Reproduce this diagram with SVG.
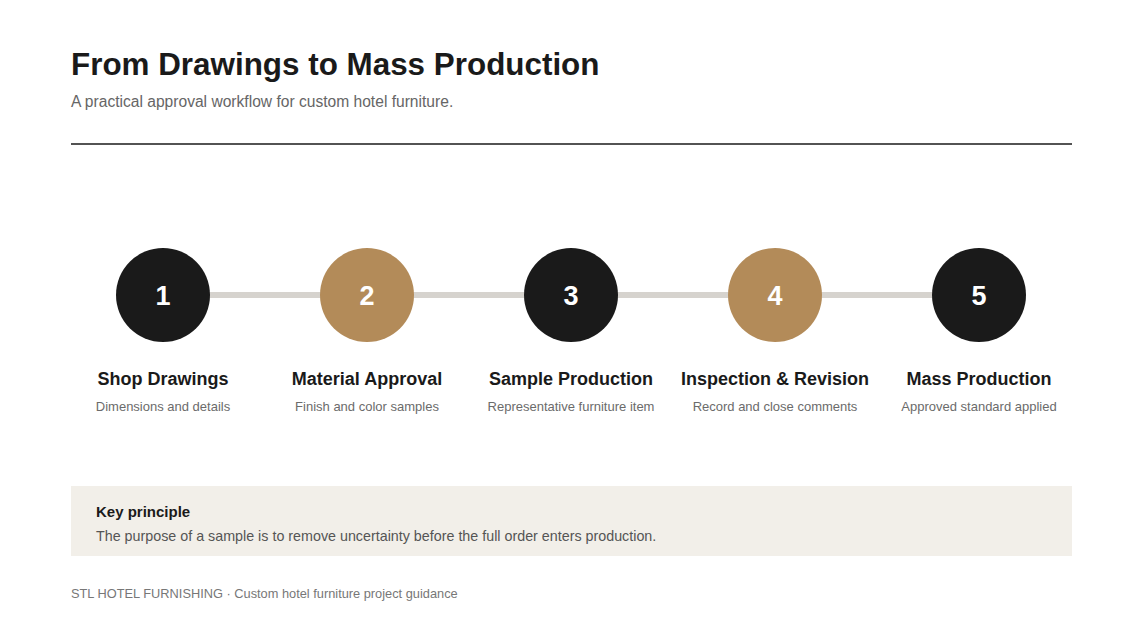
<svg xmlns="http://www.w3.org/2000/svg" width="1140" height="636" viewBox="0 0 1140 636">
<style>
text{font-family:"Liberation Sans",Arial,sans-serif}
.title{font-size:31.4px;font-weight:bold;fill:#1a1a1a}
.sub{font-size:15.6px;fill:#666}
.num{font-size:27px;font-weight:bold;fill:#fff;text-anchor:middle}
.lbl{font-size:18px;font-weight:bold;fill:#1a1a1a;text-anchor:middle}
.desc{font-size:13px;fill:#6b6b6b;text-anchor:middle}
.dark{fill:#1a1a1a}
.gold{fill:#b38b59}
.kh{font-size:15px;font-weight:bold;fill:#1a1a1a}
.kb{font-size:14.3px;fill:#555}
.foot{font-size:12.8px;fill:#777}
</style>
<rect width="1140" height="636" fill="#fff"/>
<text class="title" x="71" y="75">From Drawings to Mass Production</text>
<text class="sub" x="71" y="107">A practical approval workflow for custom hotel furniture.</text>
<line x1="71" y1="144" x2="1072" y2="144" stroke="#1a1a1a" stroke-width="1.5"/>
<g id="connectors">
<line x1="163" y1="295" x2="979" y2="295" stroke="#d6d3ce" stroke-width="6"/>
</g>
<g id="step1"><circle class="dark" cx="163" cy="295" r="47"/><text class="num" x="163" y="305">1</text><text class="lbl" x="163" y="385">Shop Drawings</text><text class="desc" x="163" y="411">Dimensions and details</text></g>
<g id="step2"><circle class="gold" cx="367" cy="295" r="47"/><text class="num" x="367" y="305">2</text><text class="lbl" x="367" y="385">Material Approval</text><text class="desc" x="367" y="411">Finish and color samples</text></g>
<g id="step3"><circle class="dark" cx="571" cy="295" r="47"/><text class="num" x="571" y="305">3</text><text class="lbl" x="571" y="385">Sample Production</text><text class="desc" x="571" y="411">Representative furniture item</text></g>
<g id="step4"><circle class="gold" cx="775" cy="295" r="47"/><text class="num" x="775" y="305">4</text><text class="lbl" x="775" y="385">Inspection &amp; Revision</text><text class="desc" x="775" y="411">Record and close comments</text></g>
<g id="step5"><circle class="dark" cx="979" cy="295" r="47"/><text class="num" x="979" y="305">5</text><text class="lbl" x="979" y="385">Mass Production</text><text class="desc" x="979" y="411">Approved standard applied</text></g>
<g id="key">
<rect x="71" y="486" width="1001" height="70" fill="#f2efe9"/>
<text class="kh" x="96" y="517">Key principle</text>
<text class="kb" x="96" y="541">The purpose of a sample is to remove uncertainty before the full order enters production.</text>
</g>
<text class="foot" x="71" y="598">STL HOTEL FURNISHING · Custom hotel furniture project guidance</text>
</svg>
